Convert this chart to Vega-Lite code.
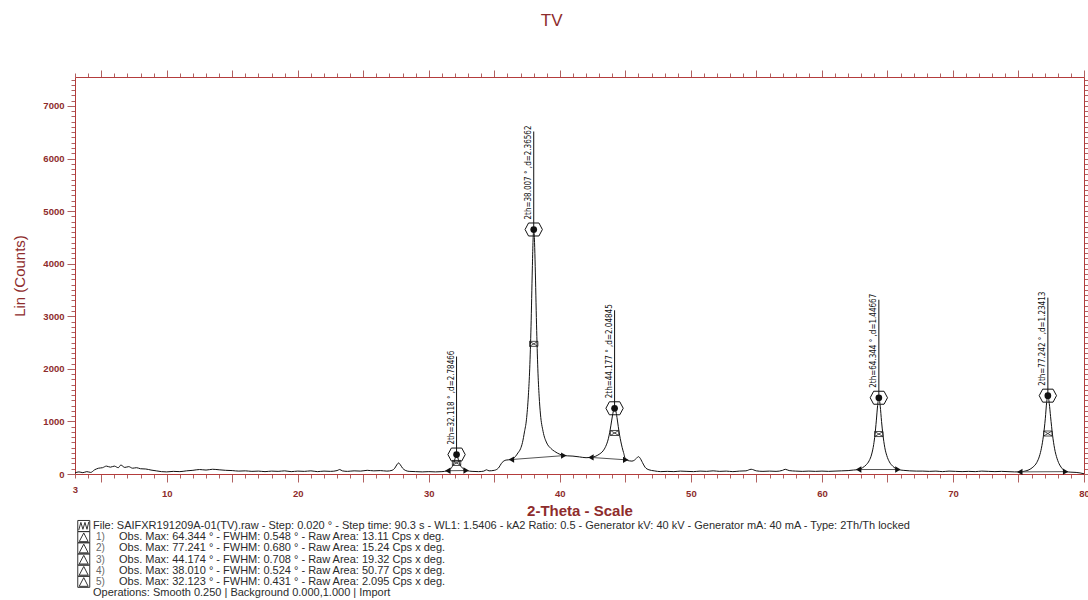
{
  "$schema": "https://vega.github.io/schema/vega-lite/v6.json",
  "background": "white",
  "padding": {"left": 12, "top": 11, "right": 0, "bottom": 0},
  "title": {"text": "TV", "font": "Liberation Sans", "fontSize": 17, "fontWeight": "normal", "color": "#8e2c2c", "offset": 40, "anchor": "middle"},
  "bounds": "flush",
  "spacing": 52,
  "datasets": {
    "curve": [
      {"theta": 3.0, "lin": 20}, {"theta": 3.3, "lin": 40}, {"theta": 3.6, "lin": 25}, {"theta": 3.9, "lin": 45}, {"theta": 4.2, "lin": 30},
      {"theta": 4.5, "lin": 80}, {"theta": 4.8, "lin": 110}, {"theta": 5.1, "lin": 120}, {"theta": 5.4, "lin": 150}, {"theta": 5.7, "lin": 130},
      {"theta": 6.0, "lin": 150}, {"theta": 6.3, "lin": 120}, {"theta": 6.5, "lin": 170}, {"theta": 6.8, "lin": 125}, {"theta": 7.1, "lin": 140},
      {"theta": 7.4, "lin": 110}, {"theta": 7.7, "lin": 120}, {"theta": 8.0, "lin": 100}, {"theta": 8.4, "lin": 95}, {"theta": 8.8, "lin": 75},
      {"theta": 9.2, "lin": 60}, {"theta": 9.6, "lin": 45}, {"theta": 10.0, "lin": 40}, {"theta": 10.5, "lin": 50}, {"theta": 11.0, "lin": 45},
      {"theta": 11.5, "lin": 60}, {"theta": 12.0, "lin": 70}, {"theta": 12.5, "lin": 85}, {"theta": 13.0, "lin": 75}, {"theta": 13.5, "lin": 90},
      {"theta": 14.0, "lin": 80}, {"theta": 14.5, "lin": 70}, {"theta": 15.0, "lin": 65}, {"theta": 15.5, "lin": 55}, {"theta": 16.0, "lin": 60},
      {"theta": 16.5, "lin": 50}, {"theta": 17.0, "lin": 55}, {"theta": 17.5, "lin": 45}, {"theta": 18.0, "lin": 55}, {"theta": 18.5, "lin": 50},
      {"theta": 19.0, "lin": 60}, {"theta": 19.5, "lin": 45}, {"theta": 20.0, "lin": 55}, {"theta": 20.5, "lin": 50}, {"theta": 21.0, "lin": 60},
      {"theta": 21.5, "lin": 45}, {"theta": 22.0, "lin": 55}, {"theta": 22.5, "lin": 50}, {"theta": 23.0, "lin": 65}, {"theta": 23.2, "lin": 85},
      {"theta": 23.4, "lin": 60}, {"theta": 23.8, "lin": 50}, {"theta": 24.3, "lin": 60}, {"theta": 24.8, "lin": 55}, {"theta": 25.3, "lin": 70},
      {"theta": 25.8, "lin": 60}, {"theta": 26.3, "lin": 65}, {"theta": 26.8, "lin": 55}, {"theta": 27.2, "lin": 70}, {"theta": 27.4, "lin": 110},
      {"theta": 27.6, "lin": 190}, {"theta": 27.7, "lin": 210}, {"theta": 27.8, "lin": 185}, {"theta": 28.0, "lin": 110}, {"theta": 28.2, "lin": 70},
      {"theta": 28.5, "lin": 50}, {"theta": 29.0, "lin": 45}, {"theta": 29.5, "lin": 40}, {"theta": 30.0, "lin": 45}, {"theta": 30.5, "lin": 40},
      {"theta": 31.0, "lin": 45}, {"theta": 31.4, "lin": 60}, {"theta": 31.7, "lin": 110}, {"theta": 31.9, "lin": 200}, {"theta": 32.0, "lin": 290},
      {"theta": 32.118, "lin": 370}, {"theta": 32.25, "lin": 280}, {"theta": 32.4, "lin": 170}, {"theta": 32.6, "lin": 105}, {"theta": 32.9, "lin": 65},
      {"theta": 33.3, "lin": 50}, {"theta": 33.8, "lin": 45}, {"theta": 34.2, "lin": 55}, {"theta": 34.4, "lin": 80}, {"theta": 34.6, "lin": 60},
      {"theta": 35.0, "lin": 70}, {"theta": 35.3, "lin": 110}, {"theta": 35.6, "lin": 220}, {"theta": 35.9, "lin": 265}, {"theta": 36.3, "lin": 275},
      {"theta": 36.6, "lin": 330}, {"theta": 36.8, "lin": 400}, {"theta": 37.0, "lin": 480}, {"theta": 37.15, "lin": 600}, {"theta": 37.3, "lin": 800},
      {"theta": 37.45, "lin": 1030}, {"theta": 37.6, "lin": 1500}, {"theta": 37.7, "lin": 2000}, {"theta": 37.8, "lin": 2800}, {"theta": 37.9, "lin": 3900},
      {"theta": 37.95, "lin": 4400}, {"theta": 38.007, "lin": 4650}, {"theta": 38.07, "lin": 4400}, {"theta": 38.12, "lin": 3950}, {"theta": 38.22, "lin": 2850},
      {"theta": 38.32, "lin": 2000}, {"theta": 38.42, "lin": 1480}, {"theta": 38.52, "lin": 1140}, {"theta": 38.72, "lin": 810}, {"theta": 39.0, "lin": 590},
      {"theta": 39.3, "lin": 490}, {"theta": 39.6, "lin": 430}, {"theta": 40.0, "lin": 375}, {"theta": 40.3, "lin": 350}, {"theta": 40.6, "lin": 345},
      {"theta": 41.0, "lin": 340}, {"theta": 41.5, "lin": 325}, {"theta": 42.0, "lin": 310}, {"theta": 42.37, "lin": 315}, {"theta": 42.7, "lin": 335},
      {"theta": 43.0, "lin": 375}, {"theta": 43.3, "lin": 440}, {"theta": 43.5, "lin": 525}, {"theta": 43.7, "lin": 670}, {"theta": 43.8, "lin": 785},
      {"theta": 43.9, "lin": 930}, {"theta": 44.0, "lin": 1085}, {"theta": 44.1, "lin": 1210}, {"theta": 44.177, "lin": 1250}, {"theta": 44.26, "lin": 1210},
      {"theta": 44.36, "lin": 1075}, {"theta": 44.46, "lin": 900}, {"theta": 44.56, "lin": 740}, {"theta": 44.66, "lin": 610}, {"theta": 44.76, "lin": 500},
      {"theta": 44.86, "lin": 410}, {"theta": 45.03, "lin": 270}, {"theta": 45.3, "lin": 250}, {"theta": 45.5, "lin": 245}, {"theta": 45.7, "lin": 265},
      {"theta": 45.85, "lin": 300}, {"theta": 46.0, "lin": 330}, {"theta": 46.1, "lin": 310}, {"theta": 46.3, "lin": 220}, {"theta": 46.5, "lin": 130},
      {"theta": 46.8, "lin": 80}, {"theta": 47.2, "lin": 60}, {"theta": 47.7, "lin": 45}, {"theta": 48.2, "lin": 50}, {"theta": 48.7, "lin": 45},
      {"theta": 49.2, "lin": 55}, {"theta": 49.7, "lin": 50}, {"theta": 50.2, "lin": 45}, {"theta": 50.7, "lin": 55}, {"theta": 51.2, "lin": 50},
      {"theta": 51.7, "lin": 60}, {"theta": 52.2, "lin": 50}, {"theta": 52.7, "lin": 55}, {"theta": 53.2, "lin": 45}, {"theta": 53.7, "lin": 55},
      {"theta": 54.2, "lin": 60}, {"theta": 54.6, "lin": 90}, {"theta": 55.0, "lin": 60}, {"theta": 55.5, "lin": 50}, {"theta": 56.0, "lin": 55},
      {"theta": 56.5, "lin": 50}, {"theta": 57.0, "lin": 70}, {"theta": 57.2, "lin": 90}, {"theta": 57.5, "lin": 65}, {"theta": 58.0, "lin": 55},
      {"theta": 58.5, "lin": 50}, {"theta": 59.0, "lin": 55}, {"theta": 59.5, "lin": 50}, {"theta": 60.0, "lin": 55}, {"theta": 60.5, "lin": 50},
      {"theta": 61.0, "lin": 55}, {"theta": 61.5, "lin": 60}, {"theta": 62.0, "lin": 65}, {"theta": 62.4, "lin": 75}, {"theta": 62.8, "lin": 85},
      {"theta": 63.1, "lin": 120}, {"theta": 63.4, "lin": 180}, {"theta": 63.6, "lin": 250}, {"theta": 63.8, "lin": 380}, {"theta": 63.95, "lin": 560},
      {"theta": 64.05, "lin": 750}, {"theta": 64.15, "lin": 1010}, {"theta": 64.25, "lin": 1300}, {"theta": 64.344, "lin": 1450}, {"theta": 64.45, "lin": 1290},
      {"theta": 64.55, "lin": 1000}, {"theta": 64.65, "lin": 760}, {"theta": 64.8, "lin": 500}, {"theta": 64.95, "lin": 350}, {"theta": 65.15, "lin": 230},
      {"theta": 65.4, "lin": 150}, {"theta": 65.8, "lin": 85}, {"theta": 66.2, "lin": 70}, {"theta": 66.7, "lin": 60}, {"theta": 67.2, "lin": 55},
      {"theta": 67.7, "lin": 55}, {"theta": 68.2, "lin": 50}, {"theta": 68.7, "lin": 55}, {"theta": 69.2, "lin": 45}, {"theta": 69.7, "lin": 55},
      {"theta": 70.2, "lin": 50}, {"theta": 70.7, "lin": 45}, {"theta": 71.2, "lin": 50}, {"theta": 71.7, "lin": 45}, {"theta": 72.2, "lin": 55},
      {"theta": 72.7, "lin": 50}, {"theta": 73.2, "lin": 45}, {"theta": 73.7, "lin": 50}, {"theta": 74.2, "lin": 45}, {"theta": 74.7, "lin": 40},
      {"theta": 75.1, "lin": 40}, {"theta": 75.5, "lin": 55}, {"theta": 75.8, "lin": 80}, {"theta": 76.1, "lin": 130}, {"theta": 76.4, "lin": 220},
      {"theta": 76.6, "lin": 340}, {"theta": 76.75, "lin": 490}, {"theta": 76.9, "lin": 720}, {"theta": 77.05, "lin": 1060}, {"theta": 77.15, "lin": 1360},
      {"theta": 77.242, "lin": 1490}, {"theta": 77.35, "lin": 1340}, {"theta": 77.45, "lin": 1090}, {"theta": 77.6, "lin": 740}, {"theta": 77.75, "lin": 490},
      {"theta": 77.95, "lin": 290}, {"theta": 78.15, "lin": 170}, {"theta": 78.35, "lin": 100}, {"theta": 78.6, "lin": 45}, {"theta": 79.0, "lin": 35},
      {"theta": 79.4, "lin": 30}, {"theta": 79.7, "lin": 20}, {"theta": 80.0, "lin": 5}
    ],
    "peaks": [
      {"theta": 32.118, "lin": 370, "half": 210, "label": "2th=32.118 ° ,d=2.78466"},
      {"theta": 38.007, "lin": 4650, "half": 2475, "label": "2th=38.007 ° ,d=2.36562"},
      {"theta": 44.177, "lin": 1250, "half": 780, "label": "2th=44.177 ° ,d=2.04845"},
      {"theta": 64.344, "lin": 1450, "half": 760, "label": "2th=64.344 ° ,d=1.44667"},
      {"theta": 77.242, "lin": 1490, "half": 770, "label": "2th=77.242 ° ,d=1.23413"}
    ],
    "bases": [
      {"from": 31.45, "fromLin": 62, "to": 32.85, "toLin": 66},
      {"from": 36.3, "fromLin": 275, "to": 40.3, "toLin": 350},
      {"from": 42.37, "fromLin": 315, "to": 45.03, "toLin": 270},
      {"from": 62.8, "fromLin": 85, "to": 65.8, "toLin": 85},
      {"from": 75.1, "fromLin": 40, "to": 78.6, "toLin": 45}
    ],
    "notes": [
      {"line": 0, "kind": "file", "num": "", "text": "File: SAIFXR191209A-01(TV).raw - Step: 0.020 ° - Step time: 90.3 s - WL1: 1.5406 - kA2 Ratio: 0.5 - Generator kV: 40 kV - Generator mA: 40 mA - Type: 2Th/Th locked"},
      {"line": 1, "kind": "peak", "num": "1)", "text": "Obs. Max: 64.344 ° - FWHM: 0.548 ° - Raw Area: 13.11 Cps x deg."},
      {"line": 2, "kind": "peak", "num": "2)", "text": "Obs. Max: 77.241 ° - FWHM: 0.680 ° - Raw Area: 15.24 Cps x deg."},
      {"line": 3, "kind": "peak", "num": "3)", "text": "Obs. Max: 44.174 ° - FWHM: 0.708 ° - Raw Area: 19.32 Cps x deg."},
      {"line": 4, "kind": "peak", "num": "4)", "text": "Obs. Max: 38.010 ° - FWHM: 0.524 ° - Raw Area: 50.77 Cps x deg."},
      {"line": 5, "kind": "peak", "num": "5)", "text": "Obs. Max: 32.123 ° - FWHM: 0.431 ° - Raw Area: 2.095 Cps x deg."},
      {"line": 6, "kind": "ops", "num": "", "text": "Operations: Smooth 0.250 | Background 0.000,1.000 | Import"}
    ]
  },
  "vconcat": [
    {
      "width": 1009,
      "height": 397,
      "resolve": {"axis": {"x": "independent", "y": "independent"}},
      "layer": [
        {
          "data": {"name": "curve"},
          "mark": {"type": "line", "color": "#111111", "strokeWidth": 1, "interpolate": "monotone"},
          "encoding": {
            "x": {
              "field": "theta", "type": "quantitative",
              "scale": {"domain": [3, 80], "nice": false, "zero": false},
              "axis": {
                "orient": "bottom",
                "values": [3,4,5,6,7,8,9,10,11,12,13,14,15,16,17,18,19,20,21,22,23,24,25,26,27,28,29,30,31,32,33,34,35,36,37,38,39,40,41,42,43,44,45,46,47,48,49,50,51,52,53,54,55,56,57,58,59,60,61,62,63,64,65,66,67,68,69,70,71,72,73,74,75,76,77,78,79,80],
                "format": "d",
                "labelExpr": "datum.value == 3 || datum.value % 10 == 0 ? datum.label : ''",
                "labelOverlap": false,
                "labelFlush": false,
                "tickSize": {"condition": {"test": "datum.value % 5 == 0", "value": 8}, "value": 4},
                "labelPadding": 6,
                "title": "2-Theta - Scale",
                "titleFontSize": 15,
                "titleFontWeight": "bold",
                "titlePadding": 6
              }
            },
            "y": {
              "field": "lin", "type": "quantitative",
              "scale": {"domain": [0, 7550], "nice": false},
              "axis": {
                "orient": "left",
                "values": [0,100,200,300,400,500,600,700,800,900,1000,1100,1200,1300,1400,1500,1600,1700,1800,1900,2000,2100,2200,2300,2400,2500,2600,2700,2800,2900,3000,3100,3200,3300,3400,3500,3600,3700,3800,3900,4000,4100,4200,4300,4400,4500,4600,4700,4800,4900,5000,5100,5200,5300,5400,5500,5600,5700,5800,5900,6000,6100,6200,6300,6400,6500,6600,6700,6800,6900,7000,7100,7200,7300,7400,7500],
                "format": "d",
                "labelExpr": "datum.value % 1000 == 0 ? datum.label : ''",
                "labelOverlap": false,
                "labelFlush": false,
                "tickSize": {"condition": {"test": "datum.value % 1000 == 0", "value": 8}, "value": 4},
                "labelPadding": 3,
                "title": "Lin (Counts)",
                "titleFontSize": 15,
                "titleFontWeight": "normal",
                "titlePadding": 15
              }
            }
          }
        },
        {
          "data": {"name": "bases"},
          "mark": {"type": "rule", "color": "#555555", "strokeWidth": 1},
          "encoding": {
            "x": {
              "field": "from", "type": "quantitative",
              "axis": {
                "orient": "top",
                "values": [3,4,5,6,7,8,9,10,11,12,13,14,15,16,17,18,19,20,21,22,23,24,25,26,27,28,29,30,31,32,33,34,35,36,37,38,39,40,41,42,43,44,45,46,47,48,49,50,51,52,53,54,55,56,57,58,59,60,61,62,63,64,65,66,67,68,69,70,71,72,73,74,75,76,77,78,79,80],
                "labels": false,
                "title": null,
                "tickSize": {"condition": {"test": "datum.value % 5 == 0", "value": 7}, "value": 4}
              }
            },
            "x2": {"field": "to"},
            "y": {
              "field": "fromLin", "type": "quantitative",
              "axis": {
                "orient": "right",
                "values": [0,100,200,300,400,500,600,700,800,900,1000,1100,1200,1300,1400,1500,1600,1700,1800,1900,2000,2100,2200,2300,2400,2500,2600,2700,2800,2900,3000,3100,3200,3300,3400,3500,3600,3700,3800,3900,4000,4100,4200,4300,4400,4500,4600,4700,4800,4900,5000,5100,5200,5300,5400,5500,5600,5700,5800,5900,6000,6100,6200,6300,6400,6500,6600,6700,6800,6900,7000,7100,7200,7300,7400,7500],
                "labels": false,
                "title": null,
                "tickSize": {"condition": {"test": "datum.value % 1000 == 0", "value": 6}, "value": 4}
              }
            },
            "y2": {"field": "toLin"}
          }
        },
        {
          "data": {"name": "bases"},
          "mark": {"type": "point", "shape": "triangle-left", "filled": true, "color": "#111111", "size": 40, "opacity": 1},
          "encoding": {
            "x": {"field": "from", "type": "quantitative", "axis": null},
            "y": {"field": "fromLin", "type": "quantitative", "axis": null}
          }
        },
        {
          "data": {"name": "bases"},
          "mark": {"type": "point", "shape": "triangle-right", "filled": true, "color": "#111111", "size": 40, "opacity": 1},
          "encoding": {
            "x": {"field": "to", "type": "quantitative", "axis": null},
            "y": {"field": "toLin", "type": "quantitative", "axis": null}
          }
        },
        {
          "data": {"name": "peaks"},
          "mark": {"type": "point", "shape": "M 0 0 L 0 -2", "size": 9604, "filled": false, "stroke": "#111111", "strokeWidth": 1, "opacity": 1},
          "encoding": {
            "x": {"field": "theta", "type": "quantitative", "axis": null},
            "y": {"field": "lin", "type": "quantitative", "axis": null}
          }
        },
        {
          "data": {"name": "peaks"},
          "mark": {"type": "point", "shape": "M -1 0 L -0.6 -0.75 L 0.6 -0.75 L 1 0 L 0.6 0.75 L -0.6 0.75 Z", "size": 300, "filled": false, "stroke": "#111111", "strokeWidth": 1, "opacity": 1},
          "encoding": {
            "x": {"field": "theta", "type": "quantitative", "axis": null},
            "y": {"field": "lin", "type": "quantitative", "axis": null}
          }
        },
        {
          "data": {"name": "peaks"},
          "mark": {"type": "point", "shape": "circle", "size": 45, "filled": true, "color": "#111111", "opacity": 1},
          "encoding": {
            "x": {"field": "theta", "type": "quantitative", "axis": null},
            "y": {"field": "lin", "type": "quantitative", "axis": null}
          }
        },
        {
          "data": {"name": "peaks"},
          "mark": {"type": "point", "shape": "M -1 -0.6 L 1 -0.6 L 1 0.6 L -1 0.6 Z M -1 -0.6 L 1 0.6 M -1 0.6 L 1 -0.6", "size": 70, "filled": false, "stroke": "#222222", "strokeWidth": 0.8, "opacity": 1},
          "encoding": {
            "x": {"field": "theta", "type": "quantitative", "axis": null},
            "y": {"field": "half", "type": "quantitative", "axis": null}
          }
        },
        {
          "data": {"name": "peaks"},
          "mark": {"type": "text", "angle": 270, "align": "left", "baseline": "bottom", "dx": 10, "dy": -1, "font": "Liberation Sans Narrow, DejaVu Sans Condensed, sans-serif", "fontSize": 8, "color": "#111111"},
          "encoding": {
            "x": {"field": "theta", "type": "quantitative", "axis": null},
            "y": {"field": "lin", "type": "quantitative", "axis": null},
            "text": {"field": "label"}
          }
        },
        {
          "mark": {"type": "point", "shape": "M 0 0.2 L 0 2 L 1.4 2 Z", "size": 36, "filled": true, "color": "#9b1c1c", "opacity": 1},
          "encoding": {
            "x": {"datum": 3, "type": "quantitative", "axis": null},
            "y": {"datum": 7550, "type": "quantitative", "axis": null}
          }
        },
        {
          "mark": {"type": "point", "shape": "M 0.3 0 L -2 -1.1 L -2 0 Z", "size": 36, "filled": true, "color": "#9b1c1c", "opacity": 1},
          "encoding": {
            "x": {"datum": 80, "type": "quantitative", "axis": null},
            "y": {"datum": 0, "type": "quantitative", "axis": null}
          }
        }
      ]
    },
    {
      "width": 1009,
      "height": 67,
      "data": {"name": "notes"},
      "encoding": {
        "x": {"datum": 0, "type": "quantitative", "scale": {"domain": [0, 1]}, "axis": null},
        "y": {"field": "line", "type": "quantitative", "scale": {"domain": [0, 6], "reverse": true}, "axis": null}
      },
      "layer": [
        {
          "transform": [{"filter": "datum.kind == 'file'"}],
          "mark": {"type": "point", "shape": "M 0.46 -0.92 L 2.46 -0.92 L 2.46 0.92 L 0.46 0.92 Z M 0.62 0.7 L 0.98 -0.6 L 1.32 0.55 L 1.66 -0.6 L 2.0 0.55 L 2.3 -0.7", "size": 144, "filled": false, "stroke": "#333333", "strokeWidth": 1, "opacity": 1}
        },
        {
          "transform": [{"filter": "datum.kind == 'peak'"}],
          "mark": {"type": "point", "shape": "M 0.46 -0.92 L 2.46 -0.92 L 2.46 0.92 L 0.46 0.92 Z M 0.7 0.75 L 1.46 -0.7 L 2.2 0.75 L 0.7 0.75", "size": 144, "filled": false, "stroke": "#333333", "strokeWidth": 1, "opacity": 1}
        },
        {
          "transform": [{"filter": "datum.kind == 'peak'"}],
          "mark": {"type": "text", "align": "left", "baseline": "middle", "dx": 21, "font": "Liberation Sans", "fontSize": 10, "color": "#666666"},
          "encoding": {"text": {"field": "num"}}
        },
        {
          "transform": [{"filter": "datum.kind == 'peak'"}],
          "mark": {"type": "text", "align": "left", "baseline": "middle", "dx": 44, "font": "Liberation Sans", "fontSize": 11, "color": "#2b2b2b"},
          "encoding": {"text": {"field": "text"}}
        },
        {
          "transform": [{"filter": "datum.kind != 'peak'"}],
          "mark": {"type": "text", "align": "left", "baseline": "middle", "dx": 18, "font": "Liberation Sans", "fontSize": 11, "color": "#2b2b2b"},
          "encoding": {"text": {"field": "text"}}
        }
      ]
    }
  ],
  "config": {
    "font": "Liberation Sans",
    "view": {"stroke": null},
    "axis": {
      "grid": false,
      "domainColor": "#b43c3c",
      "domainWidth": 1,
      "tickColor": "#b06060",
      "tickWidth": 1,
      "labelColor": "#8e2c2c",
      "titleColor": "#8e2c2c",
      "labelFont": "Liberation Sans",
      "titleFont": "Liberation Sans",
      "labelFontSize": 9.5,
      "labelFontWeight": "bold"
    }
  }
}
